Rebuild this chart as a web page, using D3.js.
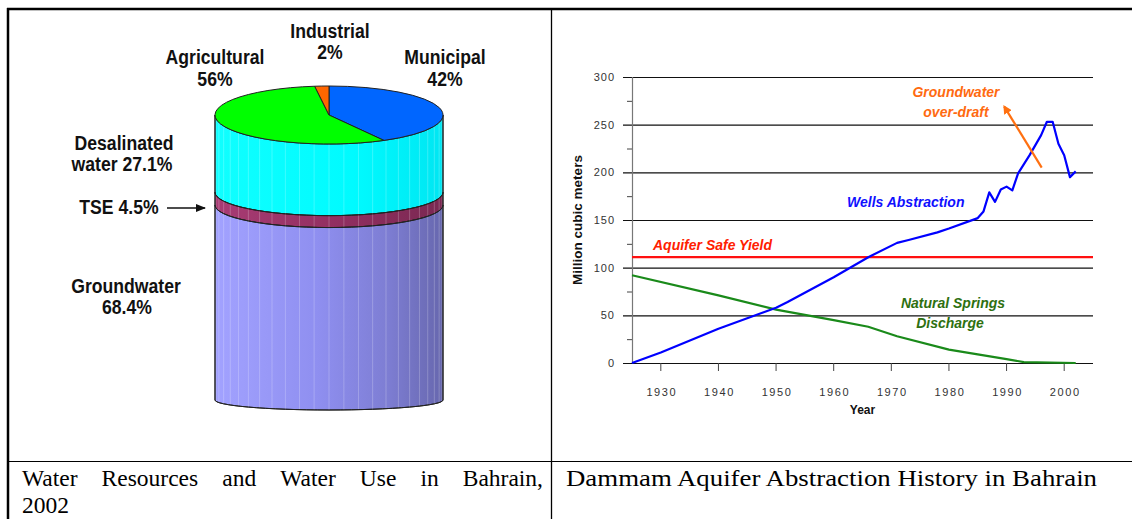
<!DOCTYPE html>
<html><head><meta charset="utf-8">
<script src="https://cdn.jsdelivr.net/npm/d3@7"></script>
<style>html,body{margin:0;padding:0;background:#fff;overflow:hidden}</style>
</head><body>
<svg id="c" width="1132" height="519" xmlns="http://www.w3.org/2000/svg"></svg>
<script>
// ---------- data ----------
const sourceNames = ["Desalinated water", "TSE", "Groundwater"];
const sourceShares = [27.1, 4.5, 68.4];
const useNames = ["Municipal", "Agricultural", "Industrial"];
const useShares = [42, 56, 2];

const wellYears  = [1925,1930,1940,1950,1952,1960,1966,1971,1973,1978,1980,1985,1986,1987,1988,1989,1990,1991,1992,1994,1996,1997,1998,1999,2000,2001,2002];
const wellValues = [0,11,36,58,64,90,111,126,129,137,141,152,159,179,169,182,185,181,199,218,239,253,253,230,218,195,201];
const springYears  = [1925,1940,1950,1960,1966,1971,1980,1985,1990,1993,2002];
const springValues = [92,71,56,45,38,28,14,9,4,1,0];
const safeYield = 111;
const overdraftArrow = [[1996.1, 205], [1989.6, 269]];
const yTicks = [0,50,100,150,200,250,300];
const yMinor = [25,75,125,175,225,275];
const xTicks = [1930,1940,1950,1960,1970,1980,1990,2000];

const svg = d3.select("#c");
const defs = svg.append("defs");

// ---------- table frame ----------
svg.append("line").attr("x1",7).attr("x2",1132).attr("y1",9).attr("y2",9).attr("stroke","#000").attr("stroke-width",2.5);
svg.append("line").attr("x1",8).attr("x2",8).attr("y1",8).attr("y2",519).attr("stroke","#000").attr("stroke-width",2.5);
svg.append("line").attr("x1",551.5).attr("x2",551.5).attr("y1",9).attr("y2",519).attr("stroke","#000").attr("stroke-width",1.3);
svg.append("line").attr("x1",8).attr("x2",1132).attr("y1",461.5).attr("y2",461.5).attr("stroke","#000").attr("stroke-width",1.2);

// captions
const capFont = "'Liberation Serif','Times New Roman',serif";
const capSize = 23.5;
const rc = svg.append("text").attr("x",566).attr("y",486).attr("font-family",capFont).attr("font-size",capSize)
  .text("Dammam Aquifer Abstraction History in Bahrain");
rc.attr("textLength",531).attr("lengthAdjust","spacingAndGlyphs");
(function(){
  const words = "Water Resources and Water Use in Bahrain,".split(" ");
  const g = svg.append("g").attr("font-family",capFont).attr("font-size",capSize);
  const nodes = words.map(w => g.append("text").attr("y",486).text(w));
  const widths = nodes.map(n => n.node().getComputedTextLength());
  const total = d3.sum(widths), x0 = 22, x1 = 543;
  const gap = (x1 - x0 - total) / (words.length - 1);
  let x = x0;
  nodes.forEach((n,i) => { n.attr("x", x); x += widths[i] + gap; });
  g.append("text").attr("x",22).attr("y",513).text("2002");
})();

// ---------- left: cylinder ----------
const cx = 329, rx = 114, yTop = 115, yBot = 400;
const hScale = d3.scaleLinear().domain([0,100]).range([yTop, yBot]);
const ryAt = d3.scaleLinear().domain([yTop, 205, yBot]).range([29, 22.5, 10]);

function grad(id, stops){
  const g = defs.append("linearGradient").attr("id",id).attr("x1","0").attr("x2","1").attr("y1","0").attr("y2","0");
  stops.forEach(s => g.append("stop").attr("offset",s[0]).attr("stop-color",s[1]));
}
grad("gCyan", [[0,"#10ffff"],[0.6,"#00fbff"],[1,"#00e6f2"]]);
grad("gTse",  [[0,"#a83c74"],[0.5,"#933062"],[1,"#7a2852"]]);
grad("gGw",   [[0,"#a2a2ff"],[0.45,"#8f8ff0"],[0.75,"#7e7ed4"],[1,"#6767ae"]]);
const fills = ["url(#gCyan)","url(#gTse)","url(#gGw)"];

let cum = 0;
const sections = sourceShares.map((v,i) => { const s = {name:sourceNames[i], a:cum, b:cum+v, fill:fills[i]}; cum += v; return s; });
const cyl = svg.append("g");
sections.forEach(s => {
  const y0 = hScale(s.a), y1 = hScale(s.b);
  const r0 = ryAt(y0), r1 = ryAt(y1);
  const p = `M${cx-rx},${y0} A${rx},${r0} 0 0 0 ${cx+rx},${y0} L${cx+rx},${y1} A${rx},${r1} 0 0 1 ${cx-rx},${y1} Z`;
  cyl.append("path").attr("d",p).attr("fill",s.fill).attr("stroke","#222").attr("stroke-width",1);
});
const clip = defs.append("clipPath").attr("id","cylClip");
clip.append("path").attr("d",`M${cx-rx},${yTop} A${rx},${ryAt(yTop)} 0 0 0 ${cx+rx},${yTop} L${cx+rx},${yBot} A${rx},${ryAt(yBot)} 0 0 1 ${cx-rx},${yBot} Z`);
cyl.append("g").attr("clip-path","url(#cylClip)").selectAll("line")
  .data(d3.range(1,24).map(k => cx - rx*Math.cos(Math.PI*k/24)))
  .join("line").attr("x1",d=>d).attr("x2",d=>d).attr("y1",yTop).attr("y2",yBot+15)
  .attr("stroke","#fff").attr("stroke-opacity",0.22).attr("stroke-width",1);
sections.forEach(s => {
  const y1 = hScale(s.b), r1 = ryAt(y1);
  cyl.append("path").attr("d",`M${cx+rx},${y1} A${rx},${r1} 0 0 1 ${cx-rx},${y1}`).attr("fill","none").attr("stroke","#222").attr("stroke-width",1);
});
cyl.append("line").attr("x1",cx-rx).attr("x2",cx-rx).attr("y1",yTop).attr("y2",yBot).attr("stroke","#222");
cyl.append("line").attr("x1",cx+rx).attr("x2",cx+rx).attr("y1",yTop).attr("y2",yBot).attr("stroke","#222");

// pie top
const pieColors = ["#0066ff","#00ff00","#ff6600"];
const pie = d3.pie().sort(null).startAngle(0).endAngle(2*Math.PI)(useShares);
const arc = d3.arc().innerRadius(0).outerRadius(rx);
svg.append("g").attr("transform",`translate(${cx},${yTop}) scale(1,${ryAt(yTop)/rx})`)
  .selectAll("path").data(pie).join("path")
  .attr("d",arc).attr("fill",(d,i)=>pieColors[i])
  .attr("stroke","#222").attr("stroke-width",1).attr("vector-effect","non-scaling-stroke");

// labels (condensed bold sans)
const lblFont = "'Liberation Sans',Arial,sans-serif";
const L = svg.append("g").attr("font-family",lblFont).attr("font-weight","bold").attr("font-size",20.5)
  .attr("fill","#111").attr("text-anchor","middle");
function lbl(x,y,t){ L.append("text").attr("transform",`translate(${x},${y}) scale(0.86,1)`).text(t); }
lbl(330,38,useNames[2]); lbl(330,59,useShares[2]+"%");
lbl(215,64,useNames[1]); lbl(215,86,useShares[1]+"%");
lbl(445,64,useNames[0]); lbl(445,86,useShares[0]+"%");
lbl(124,150,"Desalinated"); lbl(122,171,"water " + sourceShares[0] + "%");
lbl(119,214,sourceNames[1] + " " + sourceShares[1] + "%");
lbl(126,293,sourceNames[2]); lbl(127,314,sourceShares[2]+"%");
defs.append("marker").attr("id","ah").attr("viewBox","0 0 10 10").attr("refX",9).attr("refY",5)
  .attr("markerWidth",7).attr("markerHeight",7).attr("orient","auto-start-reverse")
  .append("path").attr("d","M0,1 L10,5 L0,9 Z").attr("fill","#111");
svg.append("line").attr("x1",167).attr("x2",205).attr("y1",208).attr("y2",208)
  .attr("stroke","#111").attr("stroke-width",1.5).attr("marker-end","url(#ah)");

// ---------- right: line chart ----------
const x = d3.scaleLinear().domain([1925,2005]).range([632,1093]);
const y = d3.scaleLinear().domain([0,300]).range([363,77]);
const tf = "'Liberation Sans',Arial,sans-serif";
const ch = svg.append("g");
ch.selectAll("line.grid").data(yTicks).join("line").attr("class","grid")
  .attr("x1",623).attr("x2",x(2005)).attr("y1",d=>y(d)+0.5).attr("y2",d=>y(d)+0.5)
  .attr("stroke","#111").attr("stroke-width",1.1);
ch.selectAll("line.minor").data(yMinor).join("line").attr("class","minor")
  .attr("x1",627).attr("x2",x(1925)).attr("y1",d=>y(d)+0.5).attr("y2",d=>y(d)+0.5)
  .attr("stroke","#444").attr("stroke-width",1);
ch.append("line").attr("x1",x(1925)+0.5).attr("x2",x(1925)+0.5).attr("y1",y(300)).attr("y2",y(0))
  .attr("stroke","#777").attr("stroke-width",1.2);
ch.selectAll("line.xt").data(xTicks).join("line").attr("class","xt")
  .attr("x1",d=>x(d)).attr("x2",d=>x(d)).attr("y1",y(0)).attr("y2",y(0)+8)
  .attr("stroke","#444").attr("stroke-width",1);
ch.selectAll("text.yl").data(yTicks).join("text").attr("class","yl")
  .attr("x",615).attr("y",d=>y(d)+4).attr("text-anchor","end")
  .attr("font-family",tf).attr("font-size",11).attr("letter-spacing","1px").attr("fill","#333").text(d=>d);
ch.selectAll("text.xl").data(xTicks).join("text").attr("class","xl")
  .attr("x",d=>x(d)+1).attr("y",396).attr("text-anchor","middle")
  .attr("font-family",tf).attr("font-size",11).attr("letter-spacing","1.6px").attr("fill","#333").text(d=>d);
ch.append("text").attr("x",x(1965)).attr("y",414).attr("text-anchor","middle")
  .attr("font-family",tf).attr("font-size",12).attr("font-weight","bold").attr("fill","#111").text("Year");
ch.append("text").attr("transform",`translate(582,${(y(0)+y(300))/2}) rotate(-90)`).attr("text-anchor","middle")
  .attr("font-family",tf).attr("font-size",13.5).attr("font-weight","bold").attr("fill","#111").text("Million cubic meters");

ch.append("line").attr("x1",x(1925)).attr("x2",x(2005)).attr("y1",y(safeYield)).attr("y2",y(safeYield))
  .attr("stroke","#ff1010").attr("stroke-width",2.2);
const line = d3.line().x(d=>x(d[0])).y(d=>y(d[1]));
ch.append("path").attr("d",line(springYears.map((t,i)=>[t,springValues[i]])))
  .attr("fill","none").attr("stroke","#1a8a1a").attr("stroke-width",2.2);
ch.append("path").attr("d",line(wellYears.map((t,i)=>[t,wellValues[i]])))
  .attr("fill","none").attr("stroke","#0000ff").attr("stroke-width",2.2).attr("stroke-linejoin","round");

defs.append("marker").attr("id","oah").attr("viewBox","0 0 10 10").attr("refX",8).attr("refY",5)
  .attr("markerWidth",4).attr("markerHeight",4).attr("orient","auto")
  .append("path").attr("d","M0,0 L10,5 L0,10 Z").attr("fill","#ff7010");
ch.append("line").attr("x1",x(overdraftArrow[0][0])).attr("y1",y(overdraftArrow[0][1]))
  .attr("x2",x(overdraftArrow[1][0])).attr("y2",y(overdraftArrow[1][1]))
  .attr("stroke","#ff7010").attr("stroke-width",2.2).attr("marker-end","url(#oah)");

const A = ch.append("g").attr("font-family",tf).attr("font-weight","bold").attr("font-style","italic").attr("font-size",14);
A.append("text").attr("x",653).attr("y",250).attr("fill","#ff2000").text("Aquifer Safe Yield");
A.append("text").attr("x",847).attr("y",207).attr("fill","#1010ff").text("Wells Abstraction");
A.append("text").attr("x",953).attr("y",308).attr("text-anchor","middle").attr("fill","#2e7010").text("Natural Springs");
A.append("text").attr("x",950).attr("y",328).attr("text-anchor","middle").attr("fill","#2e7010").text("Discharge");
A.append("text").attr("x",956).attr("y",97).attr("text-anchor","middle").attr("fill","#ff6a10").text("Groundwater");
A.append("text").attr("x",956).attr("y",117).attr("text-anchor","middle").attr("fill","#ff6a10").text("over-draft");
</script>
</body></html>
